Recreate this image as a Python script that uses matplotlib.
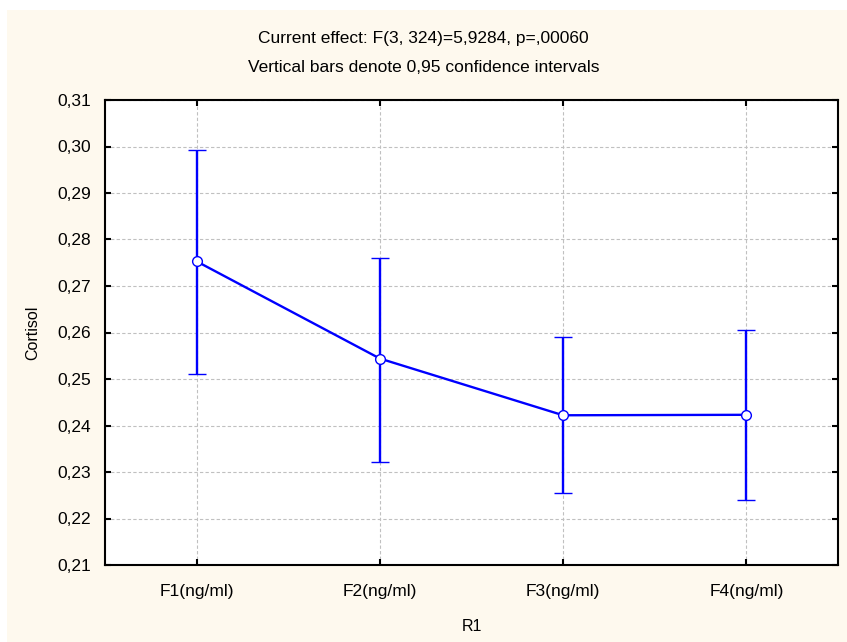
import matplotlib
matplotlib.use('Agg')
import matplotlib.pyplot as plt
from matplotlib.patches import Rectangle

# Data
categories = ['F1(ng/ml)', 'F2(ng/ml)', 'F3(ng/ml)', 'F4(ng/ml)']
means = [0.2753, 0.2544, 0.2422, 0.2423]
ci_upper = [0.2993, 0.2761, 0.2590, 0.2606]
ci_lower = [0.2511, 0.2322, 0.2255, 0.2240]
yticks = [0.21, 0.22, 0.23, 0.24, 0.25, 0.26, 0.27, 0.28, 0.29, 0.30, 0.31]
ytick_labels = ['0,21', '0,22', '0,23', '0,24', '0,25', '0,26', '0,27', '0,28', '0,29', '0,30', '0,31']
title_1 = 'Current effect: F(3, 324)=5,9284, p=,00060'
title_2 = 'Vertical bars denote 0,95 confidence intervals'

plt.rcParams['font.family'] = ['Liberation Sans', 'DejaVu Sans']
plt.rcParams['font.size'] = 12

fig = plt.figure(figsize=(8.47, 6.42), dpi=100, facecolor='white')
# cream panel behind the plot
fig.patches.append(Rectangle((7 / 847, 0), 1 - 7 / 847, 1 - 10 / 642,
                             transform=fig.transFigure, facecolor='#FEF9EE',
                             edgecolor='none', zorder=-10))

ax = fig.add_axes([105 / 847, 1 - 565 / 642, 733 / 847, 465 / 642])
ax.set_facecolor('white')

x = list(range(len(categories)))
err_low = [m - l for m, l in zip(means, ci_lower)]
err_high = [u - m for m, u in zip(means, ci_upper)]

ax.errorbar(x, means, yerr=[err_low, err_high], color='#0000FF', lw=1.7,
            elinewidth=1.7, capsize=6.5, capthick=1.7, marker='o',
            markersize=7, markerfacecolor='white', markeredgecolor='#0000FF',
            markeredgewidth=1.0, zorder=3)

ax.set_xlim(-0.5, 3.5)
ax.set_ylim(0.21, 0.31)
ax.set_xticks(x)
ax.set_xticklabels(categories, fontsize=12.5)
ax.set_yticks(yticks)
ax.set_yticklabels(ytick_labels, fontsize=12.5)

ax.grid(True, color='#C0C0C0', linestyle=(0, (3, 2)), linewidth=0.8)
ax.tick_params(direction='in', length=4, width=1.5, top=True, right=True,
               labeltop=False, labelright=False)
ax.tick_params(axis='x', pad=14)
ax.tick_params(axis='y', pad=10)
for s in ax.spines.values():
    s.set_linewidth(1.5)
    s.set_color('black')

ax.set_xlabel('R1', fontsize=11.5, labelpad=14)
ax.set_ylabel('Cortisol', fontsize=11.5, labelpad=12)

fig.text(0.5, 1 - 38 / 642, title_1, ha='center', va='center', fontsize=12.5)
fig.text(0.5, 1 - 67 / 642, title_2, ha='center', va='center', fontsize=12.5)

fig.savefig('out.png', dpi=100, facecolor=fig.get_facecolor())
